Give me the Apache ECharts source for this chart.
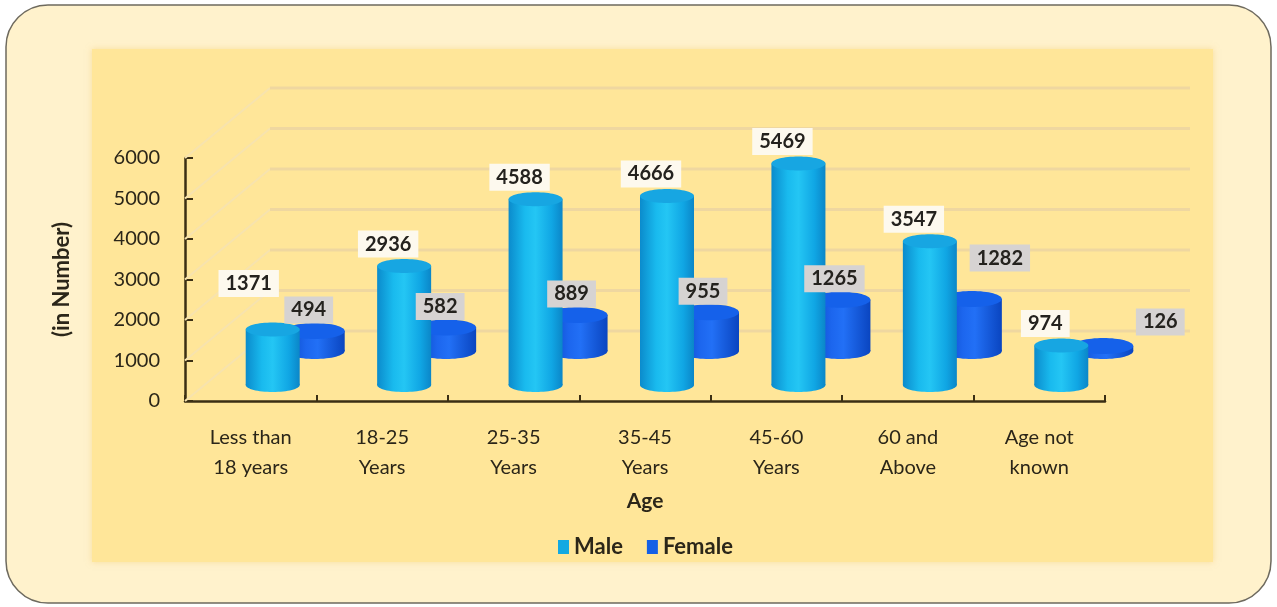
<!DOCTYPE html>
<html>
<head>
<meta charset="utf-8">
<script src="https://cdn.jsdelivr.net/npm/echarts@6/dist/echarts.min.js"></script>
<style>
  html, body { margin: 0; padding: 0; background: #ffffff; }
  #chart { width: 1277px; height: 607px; }
</style>
</head>
<body>
<div id="chart"></div>
<script>
// Age-wise counts, split by gender
const categories = ['Less than\n18 years', '18-25\nYears', '25-35\nYears', '35-45\nYears', '45-60\nYears', '60 and\nAbove', 'Age not\nknown'];
const maleValues = [1371, 2936, 4588, 4666, 5469, 3547, 974];
const femaleValues = [494, 582, 889, 955, 1265, 1282, 126];
const yTicks = [0, 1000, 2000, 3000, 4000, 5000, 6000];

// Pseudo-3D layout: back wall offset and the depth of each row of cylinders
const DEPTH_X = 85, DEPTH_Y = -70;
const MALE_ROW = { dx: 22, dy: -16, w: 54, ry: 7 };
const FEMALE_ROW = { dx: 64, dy: -50, w: 60, ry: 8 };
// Hand-placed label nudges for crowded spots [dx, dy]
const maleLabelShift = { 0: [-8, -24] };
const femaleLabelShift = { 5: [34, -20], 6: [63, -3] };

const FONT = 'Lato, "Open Sans", sans-serif';
const TEXT = '#2b2619';

const maleBody = new echarts.graphic.LinearGradient(0, 0, 1, 0, [
  { offset: 0, color: '#0b8bcc' },
  { offset: 0.3, color: '#19baee' },
  { offset: 0.5, color: '#24c6f4' },
  { offset: 0.8, color: '#10a6e4' },
  { offset: 1, color: '#0b86c8' }
]);
const femaleBody = new echarts.graphic.LinearGradient(0, 0, 1, 0, [
  { offset: 0, color: '#0a47c4' },
  { offset: 0.35, color: '#1c66ee' },
  { offset: 0.55, color: '#2270f6' },
  { offset: 1, color: '#0a45c0' }
]);

function cylinder(row, body, topColor) {
  return function (params, api) {
    const idx = api.value(0);
    const base = api.coord([idx, 0]);
    const top = api.coord([idx, api.value(1)]);
    const cx = base[0] + row.dx;
    const yb = base[1] + row.dy;
    const yt = top[1] + row.dy;
    const rx = row.w / 2;
    return {
      type: 'group',
      children: [
        { type: 'ellipse', shape: { cx: cx, cy: yb, rx: rx, ry: row.ry }, style: { fill: body } },
        { type: 'rect', shape: { x: cx - rx, y: yt, width: row.w, height: yb - yt }, style: { fill: body } },
        { type: 'ellipse', shape: { cx: cx, cy: yt, rx: rx, ry: row.ry }, style: { fill: topColor } }
      ]
    };
  };
}

function valueLabels(row, baseDx, gap, shifts, boxColor) {
  return function (params, api) {
    const idx = api.value(0);
    const v = api.value(1);
    const base = api.coord([idx, 0]);
    const top = api.coord([idx, v]);
    const s = shifts[idx] || [0, 0];
    return {
      type: 'text',
      style: {
        text: String(v),
        x: base[0] + baseDx + s[0],
        y: top[1] + row.dy - gap + s[1],
        align: 'center',
        verticalAlign: 'middle',
        font: 'bold 20px ' + FONT,
        fill: '#24221e',
        backgroundColor: boxColor,
        padding: [4, 7, 3, 7]
      }
    };
  };
}

const maleData = categories.map((c, i) => [i, maleValues[i]]);
const femaleData = categories.map((c, i) => [i, femaleValues[i]]);

const chart = echarts.init(document.getElementById('chart'), null, { renderer: 'canvas' });

chart.setOption({
  animation: false,
  backgroundColor: '#ffffff',
  color: ['#13a9e2', '#1560e6'],
  graphic: [
    {
      type: 'rect', z: -20, silent: true,
      shape: { x: 6, y: 5, width: 1265, height: 598, r: 42 },
      style: { fill: '#fff2cc', stroke: '#6e6a5e', lineWidth: 1.5 }
    },
    {
      type: 'rect', z: -19, silent: true,
      shape: { x: 92, y: 49, width: 1121, height: 513 },
      style: { fill: '#ffe699', shadowBlur: 6, shadowColor: 'rgba(240,200,110,0.5)' }
    }
  ],
  grid: { left: 185, right: 172, top: 158, bottom: 206, containLabel: false },
  legend: {
    data: ['Male', 'Female'],
    left: 553, top: 531,
    icon: 'rect', itemWidth: 11, itemHeight: 14, itemGap: 24,
    textStyle: { fontWeight: 'bold', fontSize: 22, fontFamily: FONT, color: TEXT }
  },
  xAxis: {
    type: 'category',
    data: categories,
    name: 'Age',
    nameLocation: 'middle',
    nameGap: 90,
    nameTextStyle: { fontFamily: FONT, fontSize: 21, fontWeight: 'bold', color: TEXT },
    axisLine: { lineStyle: { color: '#3b2f14', width: 2.5 } },
    axisTick: { show: true, inside: true, length: 6, interval: 0, lineStyle: { color: '#3b2f14', width: 2 } },
    axisLabel: { interval: 0, margin: 22, fontFamily: FONT, fontSize: 20, color: TEXT, lineHeight: 30 },
    splitLine: { show: false }
  },
  yAxis: {
    type: 'value',
    min: 0, max: 6000, interval: 1000,
    name: '(in Number)',
    nameLocation: 'middle',
    nameGap: 112,
    nameRotate: 90,
    nameTextStyle: { fontFamily: FONT, fontSize: 22, fontWeight: 'bold', color: TEXT },
    axisLine: { show: true, lineStyle: { color: '#3b2f14', width: 2.5 } },
    axisTick: { show: true, inside: true, length: 8, lineStyle: { color: '#3b2f14', width: 2 } },
    axisLabel: { margin: 25, fontFamily: FONT, fontSize: 20, color: TEXT, formatter: v => String(v) },
    splitLine: { show: false }
  },
  series: [
    {
      // back wall grid: diagonal on the side wall, then across the back wall
      name: 'wall', type: 'custom', z: 2, silent: true,
      data: yTicks.map(v => [0, v]),
      encode: { x: 0, y: 1 },
      renderItem: function (params, api) {
        const cs = params.coordSys;
        const y = api.coord([0, api.value(1)])[1];
        const x0 = cs.x, x1 = cs.x + DEPTH_X, x2 = cs.x + cs.width + DEPTH_X;
        return {
          type: 'group',
          children: [
            { type: 'line', shape: { x1: x0, y1: y, x2: x1, y2: y + DEPTH_Y }, style: { stroke: '#f7e3ae', lineWidth: 2 } },
            { type: 'line', shape: { x1: x1, y1: y + DEPTH_Y, x2: x2, y2: y + DEPTH_Y }, style: { stroke: '#efd7a0', lineWidth: 3 } }
          ]
        };
      }
    },
    {
      name: 'Female', type: 'custom', z: 3,
      itemStyle: { color: '#1560e6' },
      data: femaleData, encode: { x: 0, y: 1 },
      renderItem: cylinder(FEMALE_ROW, femaleBody, '#1561ea')
    },
    {
      name: 'Male', type: 'custom', z: 4,
      itemStyle: { color: '#13a9e2' },
      data: maleData, encode: { x: 0, y: 1 },
      renderItem: cylinder(MALE_ROW, maleBody, '#17a6e2')
    },
    {
      name: 'femaleLabels', type: 'custom', z: 5, silent: true,
      data: femaleData, encode: { x: 0, y: 1 },
      renderItem: valueLabels(FEMALE_ROW, 58, 21, femaleLabelShift, '#d6d3d2')
    },
    {
      name: 'maleLabels', type: 'custom', z: 6, silent: true,
      data: maleData, encode: { x: 0, y: 1 },
      renderItem: valueLabels(MALE_ROW, 6, 22, maleLabelShift, '#fdf9ee')
    }
  ]
});
</script>
</body>
</html>
